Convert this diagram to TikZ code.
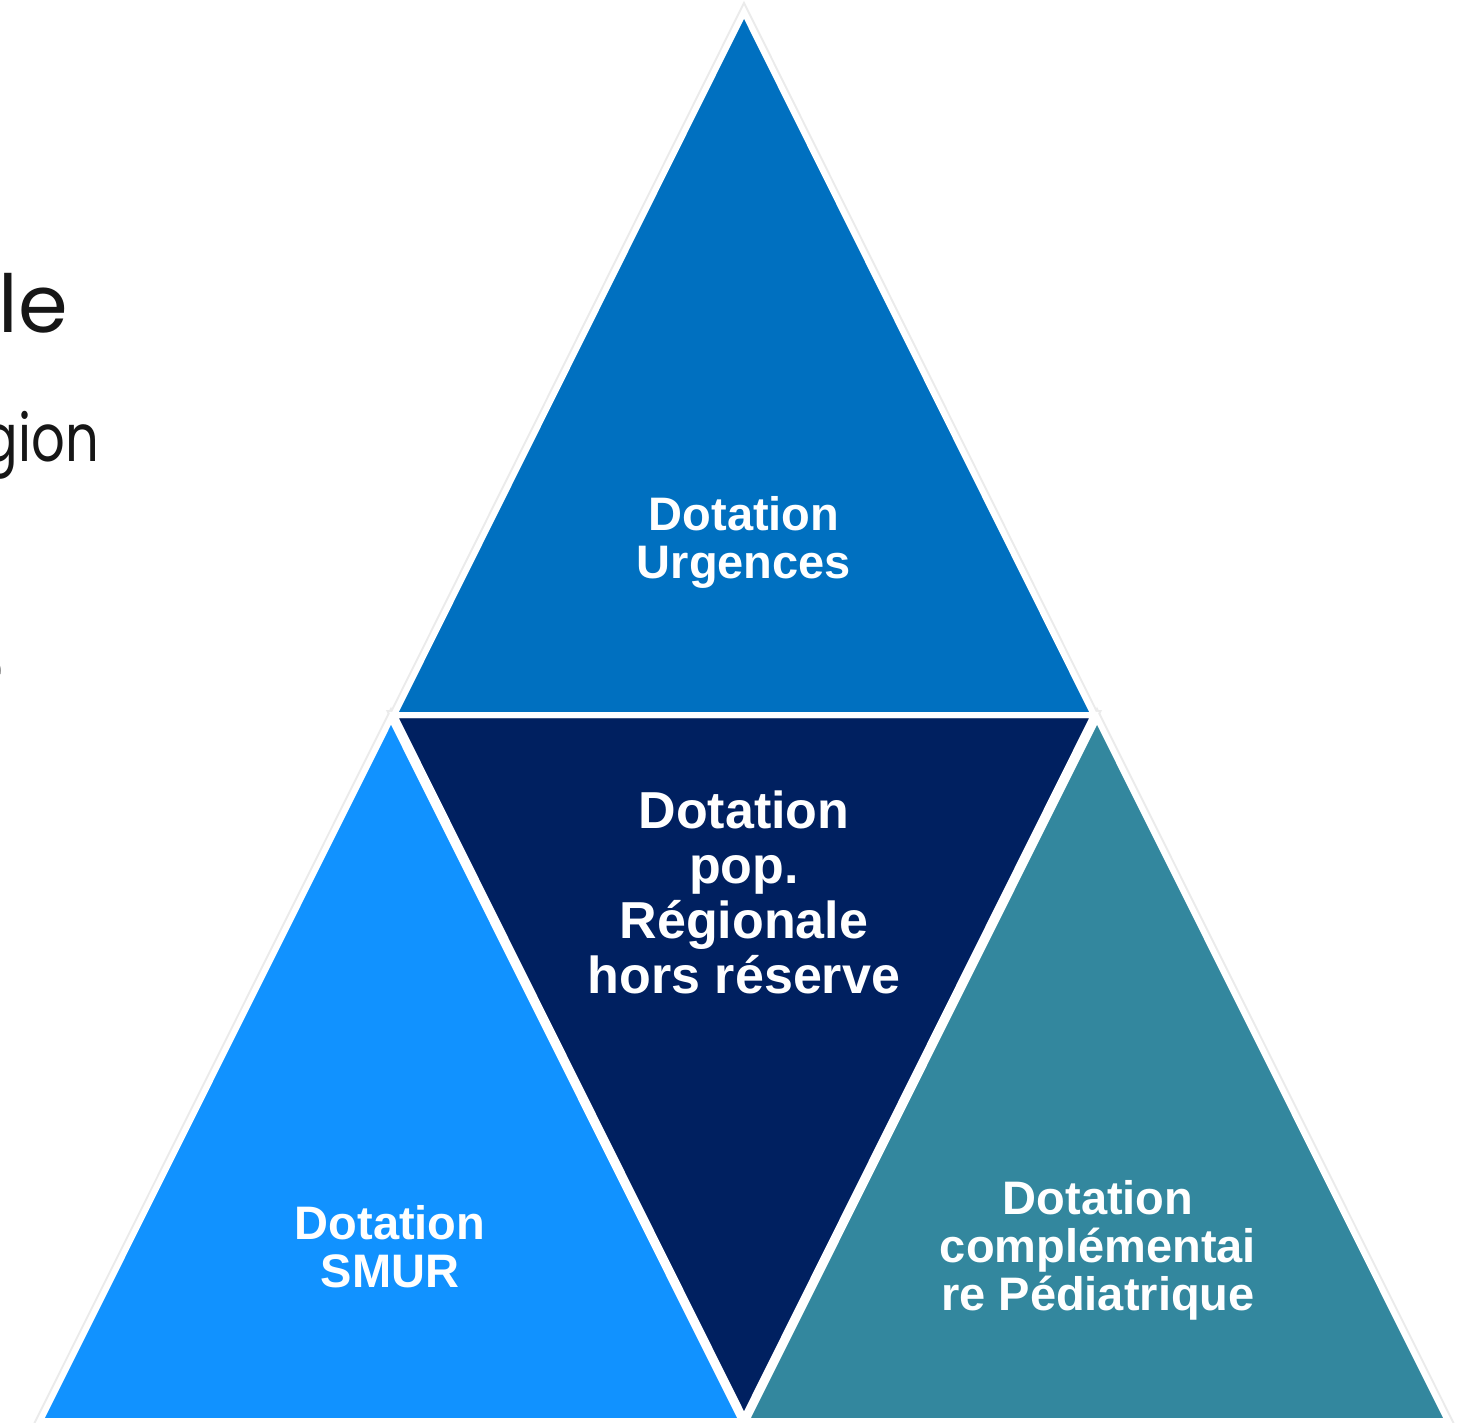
\documentclass[tikz,border=0pt]{standalone}
\usepackage{fontspec}
\setmainfont{Liberation Sans}
\newfontfamily\popfont{Poppins}
\newfontfamily\popnarrow{Poppins}[FakeStretch=0.8]
\definecolor{cTop}{HTML}{0070C0}
\definecolor{cMid}{HTML}{002060}
\definecolor{cLeft}{HTML}{1192FF}
\definecolor{cRight}{HTML}{33879E}
\definecolor{cInk}{HTML}{161616}
\begin{document}
\begin{tikzpicture}[x=1pt,y=-1pt,
  outline/.style={line width=6pt, draw=white, line join=miter},
  shadowline/.style={line width=10pt, draw=black!8, line join=miter},
  lbl/.style={text=white, font=\bfseries\fontsize{47}{48}\selectfont, align=center, inner sep=0pt},
  biglbl/.style={lbl, font=\bfseries\fontsize{52}{55}\selectfont},
  side/.style={font=\popfont\fontsize{80}{90}\selectfont, text=cInk, anchor=base east, inner sep=0pt},
  sidesmall/.style={side, font=\popnarrow\fontsize{66}{80}\selectfont}]
\useasboundingbox[fill=white] (0,0) rectangle (1471,1422);
% corners
\coordinate (tA) at (744,12);   \coordinate (tL) at (394,715);  \coordinate (tR) at (1094,715);
\coordinate (mL) at (394,715);  \coordinate (mR) at (1094,715); \coordinate (mB) at (744,1418);
\coordinate (lA) at (391,718);  \coordinate (lL) at (40,1421);  \coordinate (lR) at (742,1421);
\coordinate (rA) at (1097,718); \coordinate (rL) at (746,1421); \coordinate (rR) at (1448,1421);
% faint shadows
\path[shadowline] (tA) -- (tL) -- (tR) -- cycle;
\path[shadowline] (lA) -- (lL) -- (lR) -- cycle;
\path[shadowline] (rA) -- (rL) -- (rR) -- cycle;
\path[shadowline] (mL) -- (mR) -- (mB) -- cycle;
% fills
\fill[cTop]   (tA) -- (tL) -- (tR) -- cycle;
\fill[cLeft]  (lA) -- (lL) -- (lR) -- cycle;
\fill[cRight] (rA) -- (rL) -- (rR) -- cycle;
\fill[cMid]   (mL) -- (mR) -- (mB) -- cycle;
% white outlines
\path[outline] (tA) -- (tL) -- (tR) -- cycle;
\path[outline] (lA) -- (lL) -- (lR) -- cycle;
\path[outline] (rA) -- (rL) -- (rR) -- cycle;
\path[outline] (mL) -- (mR) -- (mB) -- cycle;
% labels
\node[lbl] (urg) at (744,542) {Dotation\\Urgences};
\node[biglbl] (pop) at (744,892) {Dotation\\pop.\\Régionale\\hors réserve};
\node[lbl] (smur) at (390,1247) {Dotation\\SMUR};
\node[lbl] (ped) at (1098,1250) {Dotation\\complémentai\\re Pédiatrique};
% clipped text at the left edge
\node[side] (le) at (68,332) {le};
\node[sidesmall] (gion) at (99,461) {gion};
\node[sidesmall] (e) at (3,690) {e};
\end{tikzpicture}
\end{document}
